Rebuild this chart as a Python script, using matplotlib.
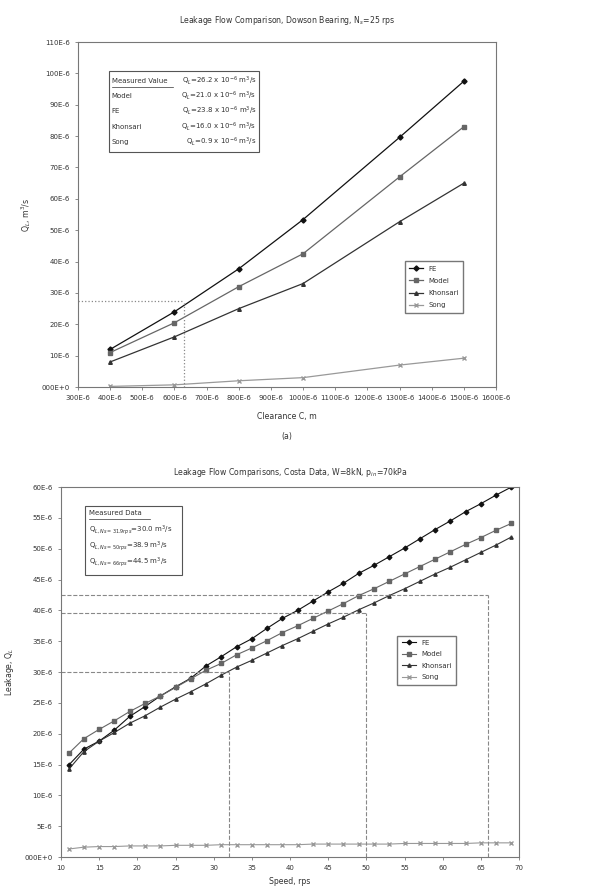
import matplotlib
matplotlib.use("Agg")
import matplotlib.pyplot as plt
from matplotlib.ticker import FuncFormatter, MultipleLocator

# --- data, top chart (Dowson bearing), values in 1E-6 units
clearance = [400, 600, 800, 1000, 1300, 1500]
fe_a = [12.0, 24.0, 37.7, 53.4, 79.6, 97.5]
model_a = [11.0, 20.5, 32.0, 42.5, 67.0, 83.0]
khon_a = [8.0, 16.0, 25.0, 33.0, 52.7, 65.0]
song_a = [0.2, 0.7, 2.0, 3.0, 7.0, 9.2]
meas_a_x = 630
meas_a_y = 27.5

# --- data, bottom chart (Costa data)
speed = [11, 13, 15, 17, 19, 21, 23, 25, 27, 29, 31, 33, 35, 37, 39,
         41, 43, 45, 47, 49, 51, 53, 55, 57, 59, 61, 63, 65, 67, 69]
fe_b = [14.9, 17.5, 18.8, 20.6, 22.8, 24.4, 26.1, 27.6, 29.0, 31.0,
        32.5, 34.1, 35.4, 37.1, 38.7, 40.0, 41.5, 43.0, 44.4, 46.0,
        47.3, 48.7, 50.1, 51.6, 53.1, 54.5, 56.0, 57.3, 58.7, 60.0]
model_b = [16.8, 19.2, 20.7, 22.1, 23.6, 24.9, 26.1, 27.5, 28.9, 30.3,
           31.4, 32.8, 33.9, 35.1, 36.4, 37.5, 38.7, 39.9, 41.1, 42.4,
           43.5, 44.7, 45.9, 47.1, 48.3, 49.5, 50.7, 51.8, 53.0, 54.1]
khon_b = [14.2, 17.1, 18.8, 20.2, 21.7, 22.9, 24.3, 25.6, 26.8, 28.1,
          29.5, 30.8, 31.9, 33.1, 34.3, 35.4, 36.6, 37.8, 38.9, 40.1,
          41.2, 42.4, 43.5, 44.7, 45.9, 47.0, 48.2, 49.4, 50.6, 51.9]
song_b = [1.3, 1.6, 1.7, 1.7, 1.8, 1.8, 1.8, 1.9, 1.9, 1.9,
          2.0, 2.0, 2.0, 2.0, 2.0, 2.0, 2.1, 2.1, 2.1, 2.1,
          2.1, 2.1, 2.2, 2.2, 2.2, 2.2, 2.2, 2.3, 2.3, 2.3]
meas_b_x = [32, 50, 66]
meas_b_y = [30.0, 39.6, 42.5]

names = ["FE", "Model", "Khonsari", "Song"]
cols = ["#111111", "#666666", "#333333", "#999999"]
marks = ["D", "s", "^", "x"]

txt = "#333333"
fs = 5.0


def efmt(v, pos):
    if abs(v) < 1e-9:
        return "000E+0"
    return "%dE-6" % round(v)


def style(ax):
    for s in ax.spines.values():
        s.set_color("#777777")
        s.set_linewidth(0.8)
    ax.tick_params(labelsize=fs, colors="#777777", labelcolor=txt,
                   length=2.5, width=0.6, direction="out")
    ax.xaxis.set_major_formatter(FuncFormatter(efmt))
    ax.yaxis.set_major_formatter(FuncFormatter(efmt))


fig = plt.figure(figsize=(5.89, 8.92), dpi=100)

# ---------------- top chart
ax1 = fig.add_axes([0.1324, 0.5661, 0.7097, 0.3868])
series_a = [fe_a, model_a, khon_a, song_a]
for i in range(4):
    ax1.plot(clearance, series_a[i], color=cols[i], marker=marks[i],
             markersize=2.6, linewidth=0.9, label=names[i])
ax1.plot([300, meas_a_x], [meas_a_y, meas_a_y], ":", color="#888888", lw=0.9)
ax1.plot([meas_a_x, meas_a_x], [0, meas_a_y], ":", color="#888888", lw=0.9)
ax1.set_xlim(300, 1600)
ax1.set_ylim(0, 110)
ax1.xaxis.set_major_locator(MultipleLocator(100))
ax1.yaxis.set_major_locator(MultipleLocator(10))
style(ax1)
ax1.set_title("Leakage Flow Comparison, Dowson Bearing, N$_s$=25 rps",
              fontsize=5.6, color=txt, pad=14)
ax1.set_xlabel("Clearance C, m", fontsize=5.6, color=txt, labelpad=8)
ax1.set_ylabel("Q$_L$, m$^3$/s", fontsize=5.6, color=txt, labelpad=6)
ax1.legend(loc="upper left", bbox_to_anchor=(0.773, 0.374), fontsize=fs,
           frameon=True, fancybox=False, edgecolor="#555555",
           handlelength=2.0, labelspacing=0.9, borderpad=0.6,
           labelcolor=txt)

# measured value box
rows_a = [("Measured Value", "Q$_L$=26.2 x 10$^{-6}$ m$^3$/s"),
          ("Model", "Q$_L$=21.0 x 10$^{-6}$ m$^3$/s"),
          ("FE", "Q$_L$=23.8 x 10$^{-6}$ m$^3$/s"),
          ("Khonsari", "Q$_L$=16.0 x 10$^{-6}$ m$^3$/s"),
          ("Song", "Q$_L$=0.9 x 10$^{-6}$ m$^3$/s")]
ys_a = [0.887, 0.843, 0.800, 0.754, 0.710]
ax1.add_patch(plt.Rectangle((0.074, 0.681), 0.359, 0.235, fill=False,
                            edgecolor="#555555", lw=0.8,
                            transform=ax1.transAxes))
for (n, v), y in zip(rows_a, ys_a):
    ax1.text(0.081, y, n, fontsize=fs, color=txt, va="center",
             transform=ax1.transAxes)
    ax1.text(0.427, y, v, fontsize=fs, color=txt, va="center", ha="right",
             transform=ax1.transAxes)
ax1.plot([0.081, 0.228], [0.869, 0.869], color=txt, lw=0.5,
         transform=ax1.transAxes)

fig.text(0.1324 + 0.7097 / 2, 1 - 436 / 892, "(a)", fontsize=5.6,
         color=txt, ha="center", va="center")

# ---------------- bottom chart
ax2 = fig.add_axes([0.1036, 0.0392, 0.7776, 0.4148])
series_b = [fe_b, model_b, khon_b, song_b]
for i in range(4):
    ax2.plot(speed, series_b[i], color=cols[i], marker=marks[i],
             markersize=2.4, linewidth=0.8, label=names[i])
for x, y in zip(meas_b_x, meas_b_y):
    ax2.plot([10, x], [y, y], "--", color="#888888", lw=0.8)
    ax2.plot([x, x], [0, y], "--", color="#888888", lw=0.8)
ax2.set_xlim(10, 70)
ax2.set_ylim(0, 60)
ax2.xaxis.set_major_locator(MultipleLocator(5))
ax2.yaxis.set_major_locator(MultipleLocator(5))
style(ax2)
ax2.xaxis.set_major_formatter(FuncFormatter(lambda v, p: "%d" % v))
ax2.set_title("Leakage Flow Comparisons, Costa Data, W=8kN, p$_{in}$=70kPa",
              fontsize=5.6, color=txt, pad=9)
ax2.set_xlabel("Speed, rps", fontsize=5.6, color=txt, labelpad=4)
ax2.set_ylabel("Leakage, Q$_L$", fontsize=5.6, color=txt, labelpad=6)
ax2.legend(loc="upper left", bbox_to_anchor=(0.727, 0.608), fontsize=fs,
           frameon=True, fancybox=False, edgecolor="#555555",
           handlelength=2.0, labelspacing=0.8, borderpad=0.6,
           labelcolor=txt)

rows_b = ["Measured Data",
          "Q$_{L,Ns=31.9rps}$=30.0 m$^3$/s",
          "Q$_{L,Ns=50rps}$=38.9 m$^3$/s",
          "Q$_{L,Ns=66rps}$=44.5 m$^3$/s"]
ys_b = [0.930, 0.884, 0.841, 0.797]
ax2.add_patch(plt.Rectangle((0.052, 0.762), 0.212, 0.187, fill=False,
                            edgecolor="#555555", lw=0.8,
                            transform=ax2.transAxes))
for r, y in zip(rows_b, ys_b):
    ax2.text(0.060, y, r, fontsize=fs, color=txt, va="center",
             transform=ax2.transAxes)
ax2.plot([0.060, 0.195], [0.913, 0.913], color=txt, lw=0.5,
         transform=ax2.transAxes)

fig.savefig("out.png", dpi=100)
